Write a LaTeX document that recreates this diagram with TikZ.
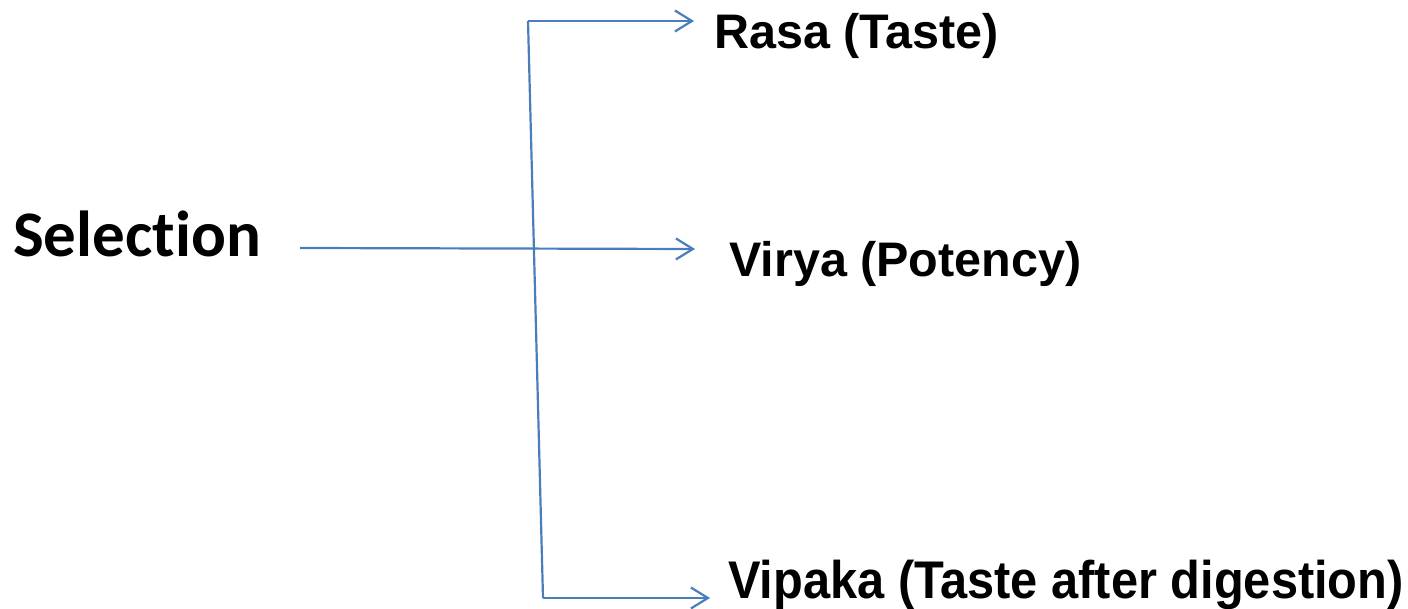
\documentclass[tikz,border=0pt]{standalone}
\usepackage{fontspec}
\usepackage{graphicx}
\setmainfont{Liberation Sans}
\newfontfamily\headfont{Carlito}[Ligatures={NoCommon}]
\usetikzlibrary{arrows.meta}
\definecolor{linkblue}{HTML}{4A7EBB}
\tikzset{
  x=1pt, y=1pt,
  link/.style={draw=linkblue, line width=2.2pt,
    -{Straight Barb[length=17pt,width=21pt,line width=2.2pt]}},
  trunk/.style={draw=linkblue, line width=2.2pt},
  rootlabel/.style={anchor=base west, inner sep=0pt,
    font=\headfont\bfseries\fontsize{65}{78}\selectfont},
  leaflabel/.style={anchor=base west, inner sep=0pt,
    font=\bfseries\fontsize{48.5}{58}\selectfont},
}
\begin{document}
\begin{tikzpicture}
  \useasboundingbox (0,0) rectangle (1408,608);

  % labels
  \node[rootlabel] (sel) at (13,351) {Selection};
  \node[leaflabel] (rasa) at (714,559) {Rasa (Taste)};
  \node[leaflabel] (virya) at (729,331) {Virya (Potency)};
  \node[leaflabel, font=\bfseries\fontsize{53}{64}\selectfont] (vipaka) at (728,10)
    {\scalebox{0.92}[1]{Vipaka (Taste after digestion)}};

  % branch points and arrow ends
  \coordinate (selout) at (300,360);
  \coordinate (ttop) at (528,587);
  \coordinate (tbot) at (543,10);
  \coordinate (rasain) at (694,587);
  \coordinate (viryain) at (695,359);
  \coordinate (vipakain) at (710,10);

  % connectors
  \draw[trunk] (tbot) -- (ttop);
  \draw[link] (ttop) -- (rasain);
  \draw[link] (tbot) -- (vipakain);
  \draw[link] (selout) -- (viryain);
\end{tikzpicture}
\end{document}
